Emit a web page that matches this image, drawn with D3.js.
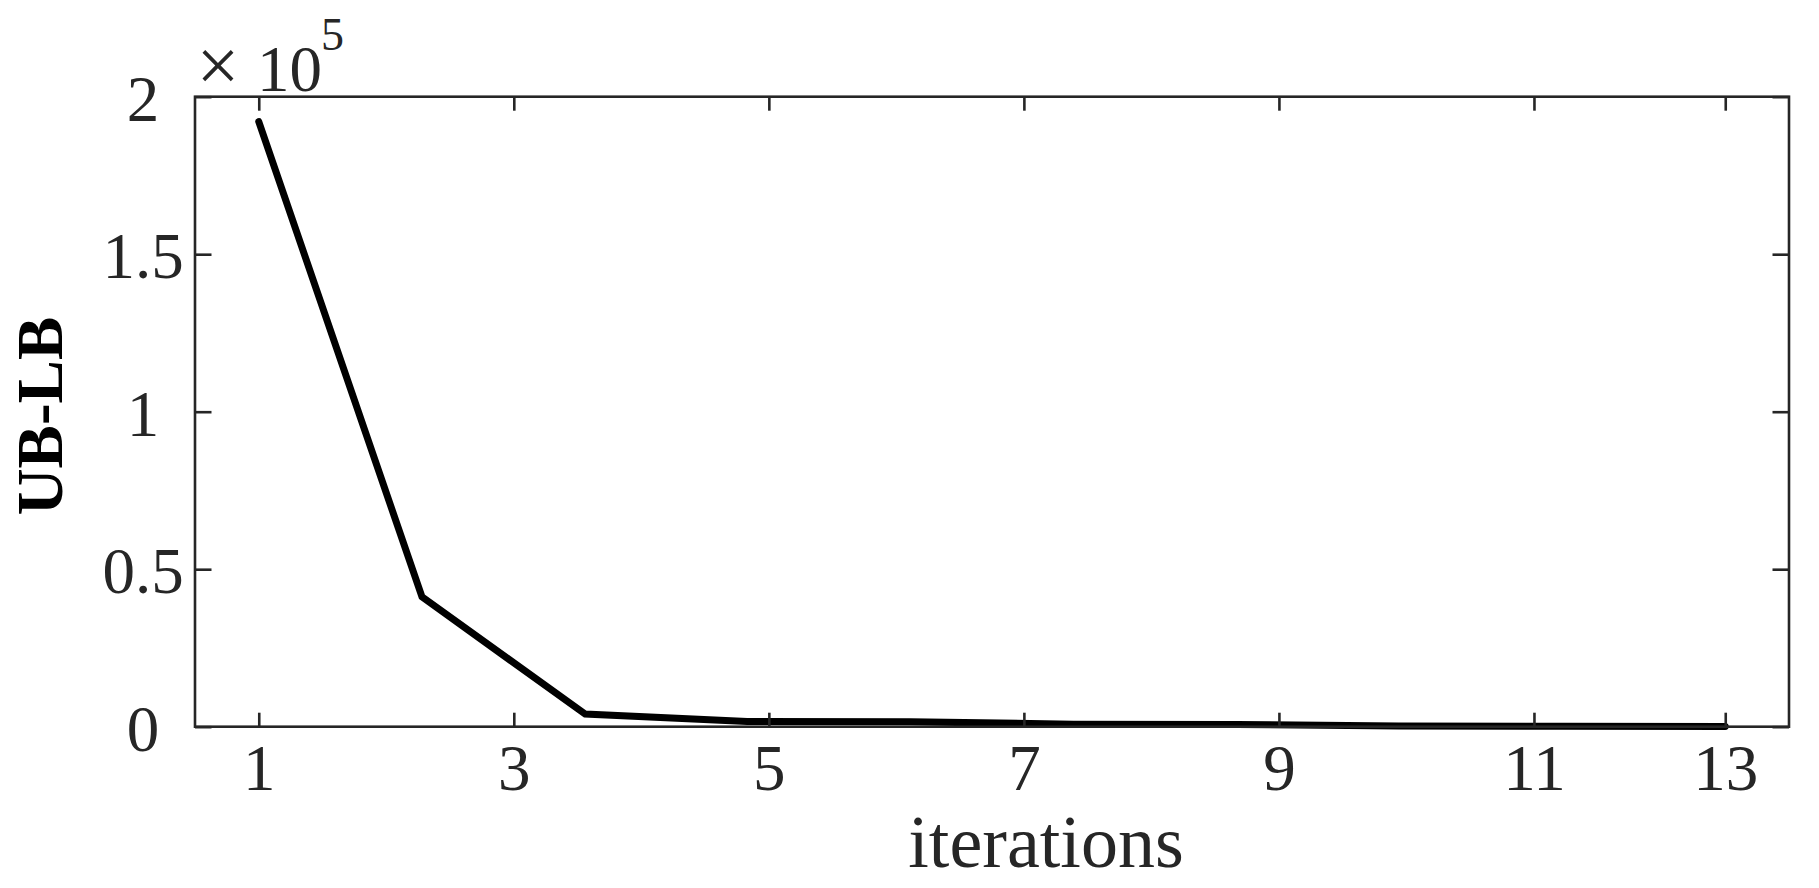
<!DOCTYPE html>
<html>
<head>
<meta charset="utf-8">
<script src="https://cdn.jsdelivr.net/npm/d3@7"></script>
<style>
  html, body { margin: 0; padding: 0; background: #fff; }
  svg { display: block; }
  text { font-family: "Liberation Serif", "Times New Roman", serif; }
</style>
</head>
<body>
<svg id="chart" width="1819" height="888"></svg>
<script>
// ---- data ----
const iterations = [1, 2.28, 3.56, 4.83, 6.11, 7.39, 8.67, 9.94, 11.22, 12.5];
const gapValues  = [192100, 41200, 4000, 1650, 1550, 800, 700, 200, 150, 100];
const xTickValues = [1, 3, 5, 7, 9, 11, 12.5];
const xTickLabels = ["1", "3", "5", "7", "9", "11", "13"];
const yTickValues = [0, 50000, 100000, 150000, 200000];
const yTickLabels = ["0", "0.5", "1", "1.5", "2"];
const xDomain = [0.5, 13];
const yDomain = [0, 200000];

// ---- layout ----
const plotLeft = 195, plotRight = 1789, plotTop = 96.7, plotBottom = 726.7;
const axisColor = "#262626";

const svg = d3.select("#chart");
const x = d3.scaleLinear().domain(xDomain).range([plotLeft, plotRight]);
const y = d3.scaleLinear().domain(yDomain).range([plotBottom, plotTop]);

// data line
const line = d3.line().x((d, i) => x(iterations[i])).y(d => y(d));
svg.append("path")
  .datum(gapValues)
  .attr("d", line)
  .attr("fill", "none")
  .attr("stroke", "#000")
  .attr("stroke-width", 7)
  .attr("stroke-linejoin", "miter")
  .attr("stroke-linecap", "round");

// axes (inward ticks on all sides)
const xTickLen = 14, yTickLen = 16.5;
function styleAxis(g) {
  g.selectAll(".domain").remove();
  g.selectAll(".tick line").attr("stroke", axisColor).attr("stroke-width", 2.6);
}

const gB = svg.append("g").attr("transform", `translate(0,${plotBottom})`)
  .call(d3.axisBottom(x).tickValues(xTickValues)
        .tickFormat((d, i) => xTickLabels[i]).tickSizeInner(-xTickLen).tickSizeOuter(0));
styleAxis(gB);
gB.selectAll(".tick text")
  .attr("y", 790 - plotBottom).attr("dy", 0)
  .attr("fill", axisColor).attr("font-size", 65)
  .attr("font-family", "Liberation Serif");

const gT = svg.append("g").attr("transform", `translate(0,${plotTop})`)
  .call(d3.axisTop(x).tickValues(xTickValues).tickFormat("").tickSizeInner(-xTickLen).tickSizeOuter(0));
styleAxis(gT);

const gL = svg.append("g").attr("transform", `translate(${plotLeft},0)`)
  .call(d3.axisLeft(y).tickValues(yTickValues)
        .tickFormat((d, i) => yTickLabels[i]).tickSizeInner(-yTickLen).tickSizeOuter(0));
styleAxis(gL);
gL.selectAll(".tick text")
  .attr("x", 143 - plotLeft).attr("dy", "0.36em")
  .attr("text-anchor", "middle")
  .attr("fill", axisColor).attr("font-size", 65)
  .attr("font-family", "Liberation Serif");

const gR = svg.append("g").attr("transform", `translate(${plotRight},0)`)
  .call(d3.axisRight(y).tickValues(yTickValues).tickFormat("").tickSizeInner(-yTickLen).tickSizeOuter(0));
styleAxis(gR);

// box
svg.append("rect")
  .attr("x", plotLeft).attr("y", plotTop)
  .attr("width", plotRight - plotLeft).attr("height", plotBottom - plotTop)
  .attr("fill", "none").attr("stroke", axisColor).attr("stroke-width", 2.6);

// exponent label
svg.append("text").attr("x", 218).attr("y", 91).attr("text-anchor", "middle")
  .attr("font-size", 76).attr("fill", axisColor).text("\u00D7");
svg.append("text").attr("x", 257).attr("y", 90.7)
  .attr("font-size", 65).attr("fill", axisColor).text("10");
svg.append("text").attr("x", 321).attr("y", 50)
  .attr("font-size", 46).attr("fill", axisColor).text("5");

// axis labels
svg.append("text").attr("x", 1046).attr("y", 866.7).attr("text-anchor", "middle")
  .attr("font-size", 74).attr("fill", axisColor).text("iterations");
svg.append("text")
  .attr("transform", `translate(62,416) rotate(-90)`)
  .attr("text-anchor", "middle")
  .attr("font-size", 65).attr("font-weight", "bold").attr("fill", "#000")
  .text("UB-LB");
</script>
</body>
</html>
